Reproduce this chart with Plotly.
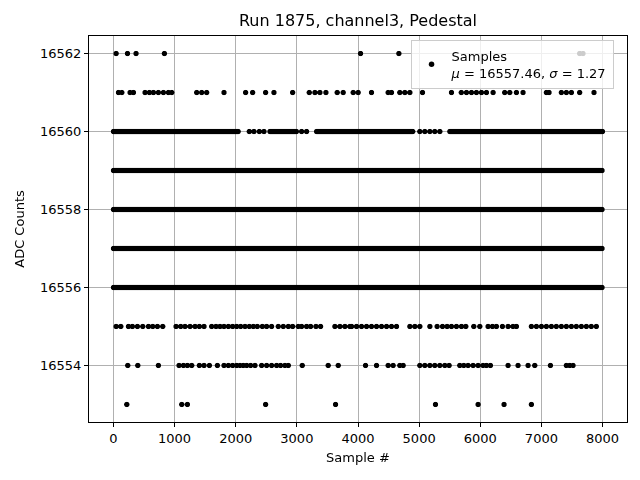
import numpy as np
import plotly.graph_objects as go

# ---- data ----
# Levels where samples form a continuous band: (start_sample, end_sample) runs
dense_runs_16556 = [(0, 7999)]
dense_runs_16557 = [(0, 7999)]
dense_runs_16558 = [(0, 7999)]
dense_runs_16559 = [(0, 7999)]
dense_runs_16560 = [(0, 2043), (2560, 2996), (3323, 4902), (5502, 7999)]

# Isolated samples (sample index) per ADC level
x_16560 = [2222, 2298, 2386, 2462, 3078, 3159, 5011, 5093, 5175, 5256, 5338]
x_16561 = [82, 136, 272, 327, 517, 588, 654, 735, 817, 899, 953, 1362, 1443, 1525,
           1808, 2162, 2277, 2489, 2625, 2931, 3203, 3295, 3377, 3475, 3660, 3758,
           3922, 4003, 4221, 4494, 4548, 4684, 4766, 4848, 5055, 5529, 5690, 5774,
           5856, 5937, 6019, 6101, 6210, 6400, 6482, 6591, 6700, 7081, 7125, 7326,
           7408, 7490, 7626, 7860]
x_16562 = [44, 229, 370, 833, 4042, 4668, 7626, 7680]
x_16555 = [44, 120, 245, 310, 392, 479, 572, 643, 719, 806, 1024, 1100, 1171, 1253,
           1335, 1405, 1482, 1607, 1678, 1743, 1808, 1879, 1950, 2015, 2081, 2152,
           2222, 2288, 2353, 2435, 2506, 2587, 2696, 2778, 2860, 2931, 3023, 3078,
           3159, 3225, 3312, 3388, 3622, 3704, 3786, 3867, 3895, 3976, 4058, 4140,
           4221, 4303, 4385, 4467, 4548, 4630, 4848, 4930, 5011, 5175, 5295, 5382,
           5458, 5529, 5610, 5692, 5763, 5894, 5992, 6128, 6199, 6264, 6362, 6455,
           6536, 6591, 6836, 6918, 7000, 7081, 7163, 7244, 7326, 7408, 7490, 7571,
           7653, 7735, 7816, 7898]
x_16554 = [234, 398, 735, 1073, 1144, 1209, 1280, 1405, 1482, 1569, 1700, 1808, 1879,
           1950, 2015, 2070, 2124, 2179, 2244, 2315, 2424, 2506, 2587, 2669, 2734,
           2805, 2860, 3088, 3513, 3677, 4123, 4303, 4494, 4575, 4684, 4739, 5011,
           5093, 5175, 5256, 5338, 5420, 5491, 5665, 5730, 5801, 5883, 5965, 6046,
           6101, 6166, 6455, 6618, 6782, 6891, 7147, 7408, 7462, 7517]
x_16553 = [218, 1117, 1209, 2489, 3633, 5267, 5965, 6389, 6836]

x_ticks = [0, 1000, 2000, 3000, 4000, 5000, 6000, 7000, 8000]
y_ticks = [16554, 16556, 16558, 16560, 16562]
title = "Run 1875, channel3, Pedestal"
mu, sigma = 16557.46, 1.27

# ---- assemble ----
def expand(runs, step=12):
    out = []
    for a, b in runs:
        out.extend(range(a, b + 1, step))
    return out

levels = {
    16562: x_16562,
    16561: x_16561,
    16560: expand(dense_runs_16560) + x_16560,
    16559: expand(dense_runs_16559),
    16558: expand(dense_runs_16558),
    16557: expand(dense_runs_16557),
    16556: expand(dense_runs_16556),
    16555: x_16555,
    16554: x_16554,
    16553: x_16553,
}
xs, ys = [], []
for lev, xl in levels.items():
    xs.extend(xl)
    ys.extend([lev] * len(xl))

W, H = 632, 472
L, R, T, B = 81, 13, 28, 58
font = "DejaVu Sans"
fig = go.Figure()
fig.add_trace(go.Scattergl(
    x=xs, y=ys, mode="markers",
    marker=dict(color="black", size=5.5),
    name=f"Samples<br><i>μ</i> = {mu:.2f}, <i>σ</i> = {sigma:.2f}",
    showlegend=True,
))

fig.update_layout(
    width=W, height=H, autosize=False,
    margin=dict(l=L, r=R, t=T, b=B, autoexpand=False),
    paper_bgcolor="white", plot_bgcolor="white",
    font=dict(family=font, size=13, color="black"),
    title=dict(text=title, x=(L + (W - R)) / 2 / W, xanchor="center",
               y=1 - 12 / H, yanchor="middle", automargin=False,
               font=dict(family=font, size=16, color="black")),
    showlegend=True,
    legend=dict(x=0.975, y=0.99, xanchor="right", yanchor="top",
                bgcolor="rgba(255,255,255,0.8)", bordercolor="#cccccc",
                borderwidth=1, font=dict(family=font, size=13, color="black"),
                itemsizing="trace"),
    xaxis=dict(range=[-400, 8400], tickvals=x_ticks, tickformat="d",
               showgrid=True, automargin=False,
               gridcolor="#b0b0b0", gridwidth=0.8, zeroline=False,
               showline=True, linecolor="black", linewidth=1, mirror=True,
               ticks="outside", ticklen=4, tickcolor="black",
               title=dict(text="Sample #", font=dict(family=font, size=13),
                          standoff=8),
               tickfont=dict(family=font, size=13, color="black")),
    yaxis=dict(range=[16552.55, 16562.45], tickvals=y_ticks, tickformat="d",
               showgrid=True, automargin=False,
               gridcolor="#b0b0b0", gridwidth=0.8, zeroline=False,
               showline=True, linecolor="black", linewidth=1, mirror=True,
               ticks="outside", ticklen=4, tickcolor="black",
               title=dict(text="ADC Counts", font=dict(family=font, size=13),
                          standoff=12),
               tickfont=dict(family=font, size=13, color="black")),
)

fig.write_html("out.html")
